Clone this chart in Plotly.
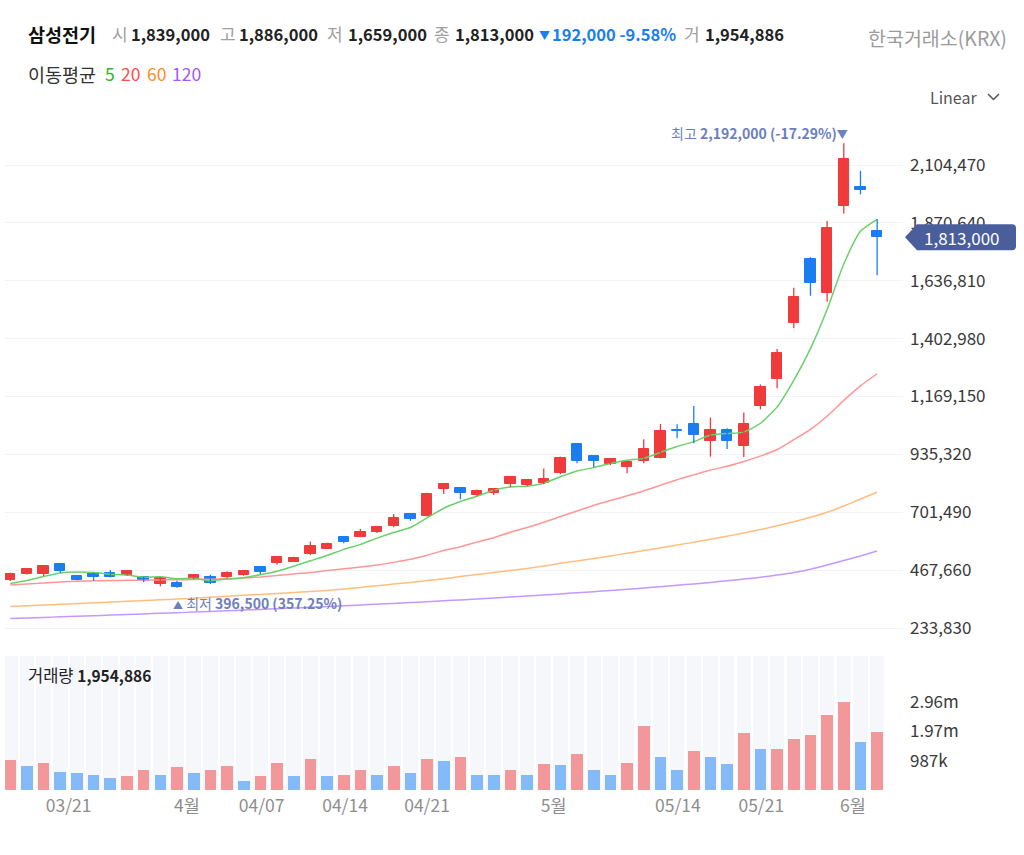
import plotly.graph_objects as go

W, H = 1024, 855
FONT = "Noto Sans CJK KR"

# ---------------- data ----------------
opens = [428000, 453000, 451000, 492000, 444000, 456000, 457000, 447000, 439000, 410000,
         417000, 433000, 441000, 440000, 447000, 479000, 495000, 502000, 531000, 555000,
         603000, 603000, 620000, 644000, 693000, 686000, 796000, 801000, 771000, 778000,
         814000, 813000, 818000, 859000, 976000, 928000, 898000, 886000, 910000, 922000,
         1032000, 1059000, 989000, 1035000, 970000, 1131000, 1240000, 1465000, 1725000, 1586000,
         1939000, 2017000, 1839000]
highs = [457000, 475000, 488000, 494000, 446000, 458000, 468000, 468000, 441000, 439000,
         425000, 452000, 449000, 463000, 468000, 481000, 525000, 522000, 583000, 578000,
         605000, 634000, 647000, 694000, 698000, 780000, 816000, 803000, 793000, 799000,
         845000, 835000, 878000, 926000, 979000, 933000, 919000, 906000, 996000, 1058000,
         1057000, 1131000, 1084000, 1041000, 1105000, 1218000, 1361000, 1609000, 1732000, 1878000,
         2192000, 2081000, 1886000]
lows = [424000, 450000, 444000, 457000, 427000, 425000, 438000, 445000, 420000, 403000,
        396500, 431000, 412000, 435000, 445000, 452000, 490000, 500000, 528000, 553000,
        576000, 601000, 618000, 641000, 667000, 684000, 775000, 754000, 767000, 771000,
        804000, 807000, 815000, 855000, 899000, 883000, 892000, 859000, 899000, 919000,
        1000000, 980000, 926000, 957000, 925000, 1117000, 1202000, 1445000, 1576000, 1552000,
        1909000, 1986000, 1659000]
closes = [452000, 471000, 483000, 465000, 429000, 440000, 440000, 464000, 424000, 435000,
          400000, 449000, 417000, 456000, 464000, 460000, 519000, 517000, 566000, 573000,
          583000, 620000, 643000, 680000, 674000, 777000, 814000, 778000, 789000, 794000,
          843000, 831000, 837000, 921000, 910000, 910000, 915000, 903000, 958000, 1030000,
          1029000, 1014000, 1035000, 989000, 1059000, 1208000, 1345000, 1572000, 1629000, 1849000,
          2128000, 2005000, 1813000]
volumes = [1008000, 806000, 907000, 605000, 561000, 514000, 413000, 460000, 662000, 514000,
           763000, 561000, 662000, 806000, 312000, 460000, 907000, 460000, 1052000, 460000,
           514000, 662000, 514000, 806000, 561000, 1052000, 964000, 1109000, 514000, 505000,
           662000, 514000, 864000, 858000, 1210000, 662000, 514000, 907000, 2160000, 1109000,
           662000, 1310000, 1109000, 864000, 1915000, 1368000, 1372000, 1714000, 1858000, 2510000,
           2961000, 1613000, 1954886]
ma5 = [414000, 426000, 442000, 456000, 460000, 457600, 451400, 447600, 439400, 440600,
       432600, 434400, 425000, 431400, 437200, 449200, 463200, 483200, 505200, 527000,
       551600, 571800, 597000, 619800, 640000, 678800, 717600, 744600, 766400, 790400,
       803600, 807000, 818800, 845200, 868400, 881800, 898600, 911800, 919200, 943200,
       967000, 986800, 1013200, 1019400, 1025200, 1061000, 1127200, 1234600, 1362600, 1520600,
       1704600, 1836600, 1884800]
ma20 = [408000, 412000, 416000, 420000, 422500, 424500, 425700, 426500, 427000, 428000,
        428600, 429800, 431000, 432700, 436000, 440000, 446000, 452000, 458000, 466200,
        472750, 480200, 488200, 498950, 511200, 528050, 546750, 562450, 580700, 598650,
        620800, 639900, 660900, 684150, 706450, 728950, 748750, 768050, 787650, 810500,
        832800, 852500, 872100, 887550, 906800, 928350, 954900, 994600, 1036600, 1089350,
        1153600, 1212300, 1261100]
ma60 = [321000, 323500, 326800, 329600, 332800, 335600, 338900, 341700, 344900, 347800,
        350600, 354200, 358300, 361900, 365900, 369600, 373600, 377700, 381700, 385700,
        391400, 397900, 404300, 411200, 418100, 425300, 433000, 441500, 449600, 457600,
        466100, 474200, 484300, 495200, 504900, 515000, 525100, 535600, 546500, 557800,
        569100, 580400, 592200, 604700, 617600, 631800, 646700, 662900, 681000, 701300,
        726700, 755000, 782100]
ma120 = [272200, 274400, 276600, 278900, 281100, 283500, 285900, 288400, 290800, 293200,
         295600, 298300, 300900, 303500, 306100, 309000, 311800, 314600, 317500, 320500,
         323500, 326700, 330000, 333200, 336600, 340100, 343700, 347300, 351200, 355000,
         359100, 363100, 367100, 371600, 376000, 380500, 385300, 390200, 395400, 400700,
         406300, 412000, 418100, 424500, 431400, 438700, 448000, 458100, 471400, 488400,
         506500, 524700, 544900]

xtick_pos = [3.5, 10.6, 15.08, 20.08, 25.0, 32.6, 40.05, 45.05, 50.55]
xtick_text = ["03/21", "4월", "04/07", "04/14", "04/21", "5월", "05/14", "05/21", "6월"]
price_ticks = [233830, 467660, 701490, 935320, 1169150, 1402980, 1636810, 1870640, 2104470]

stock_name = "삼성전기"
exchange = "한국거래소(KRX)"
ma_periods = [5, 20, 60, 120]

# ---------------- styles ----------------
RED, BLUE = "#EF3B3B", "#1A7EF0"
VRED, VBLUE = "#F2989B", "#85BAF8"
STRIPE = "#F5F7FB"
MA_LINE = ["#6BD06B", "#FF9696", "#FFBE80", "#C498FF"]
MA_TXT = ["#2DB82D", "#FF4B4B", "#FF8A1F", "#9E59FF"]
MARK = "#6C80BE"

n = len(closes)
xs = list(range(n))

# geometry (pixels)
PLOT_L, PLOT_R = 5, 903
SLOT, FIRST = 16.67, 10.3
x0 = -(FIRST - PLOT_L) / SLOT
x1 = x0 + (PLOT_R - PLOT_L) / SLOT
P_TOP, P_BOT = 120, 645
TICK_PX, TICK0_PX = 57.875, 628
upp = price_ticks[0] / TICK_PX
y_min = price_ticks[0] - (P_BOT - TICK0_PX) * upp
y_max = price_ticks[0] + (TICK0_PX - P_TOP) * upp
V_TOP, V_BOT = 656, 790
vmax = max(volumes)
v_upp = vmax / 88.0
v_top = (V_BOT - V_TOP) * v_upp

def py(p):
    return 1 - p / H

fig = go.Figure()

# volume background stripes + bars
fig.add_trace(go.Bar(x=xs, y=[v_top] * n, width=0.87, marker=dict(color=STRIPE, line=dict(width=0)),
                     xaxis="x2", yaxis="y2", hoverinfo="skip"))
vcol = [VRED if (i == 0 or volumes[i] >= volumes[i - 1]) else VBLUE for i in range(n)]
fig.add_trace(go.Bar(x=xs, y=volumes, width=0.70, marker=dict(color=vcol, line=dict(width=0)),
                     xaxis="x2", yaxis="y2"))

# moving averages
for vals, col in zip([ma120, ma60, ma20, ma5], MA_LINE[::-1]):
    fig.add_trace(go.Scatter(x=xs, y=vals, mode="lines",
                             line=dict(color=col, width=1.5, shape="spline", smoothing=0.6),
                             xaxis="x", yaxis="y", hoverinfo="skip"))

# candles: wicks + bodies
for up, col in [(True, RED), (False, BLUE)]:
    idx = [i for i in xs if (closes[i] >= opens[i]) == up]
    wx, wy = [], []
    for i in idx:
        wx += [i, i, None]
        wy += [lows[i], highs[i], None]
    fig.add_trace(go.Scatter(x=wx, y=wy, mode="lines", line=dict(color=col, width=1.3),
                             xaxis="x", yaxis="y", hoverinfo="skip"))
    fig.add_trace(go.Bar(x=idx, y=[abs(closes[i] - opens[i]) for i in idx],
                         base=[min(opens[i], closes[i]) for i in idx], width=0.62,
                         marker=dict(color=col, line=dict(color=col, width=1)),
                         xaxis="x", yaxis="y"))

# ---------------- annotations ----------------
def ann(text, x, y, size=17, color="#222222", xanchor="left", yanchor="middle"):
    return dict(text=text, x=x / W, y=py(y), xref="paper", yref="paper", showarrow=False,
                font=dict(family=FONT, size=size, color=color), xanchor=xanchor, yanchor=yanchor)

o, h, l, c = opens[-1], highs[-1], lows[-1], closes[-1]
chg = c - closes[-2]
pct = chg / closes[-2] * 100
GRAY = "#A0A0A0"
HG = 18.5   # hangul size
SG = 17     # small gray hangul labels
DG = 16.5   # digit size
anns = [
    ann(f"<b>{stock_name}</b>", 26, 34, size=HG, color="#111111"),
    ann("시", 110, 34, size=SG, color=GRAY), ann(f"<b>{o:,}</b>", 129, 34, size=DG),
    ann("고", 218, 34, size=SG, color=GRAY), ann(f"<b>{h:,}</b>", 237, 34, size=DG),
    ann("저", 325, 34, size=SG, color=GRAY), ann(f"<b>{l:,}</b>", 346, 34, size=DG),
    ann("종", 432, 34, size=SG, color=GRAY), ann(f"<b>{c:,}</b>", 453, 34, size=DG),
    ann("▼" if chg < 0 else "▲", 537, 35, size=11, color=BLUE if chg < 0 else RED),
    ann(f"<b>{abs(chg):,} {pct:.2f}%</b>", 550, 34, size=DG, color=BLUE if chg < 0 else RED),
    ann("거", 682, 34, size=SG, color=GRAY), ann(f"<b>{volumes[-1]:,}</b>", 703, 34, size=DG),
    ann(exchange, 1009, 38, size=19.5, color="#9B9B9B", xanchor="right"),
    ann("이동평균", 26, 74, size=HG, color="#333333"),
    ann("Linear", 928, 97, size=16, color="#555555"),
    ann(f"거래량 <b><span style='font-size:15.5px'>{volumes[-1]:,}</span></b>", 26, 675,
        size=16.5, color="#222222"),
]
for k, (p, xp) in enumerate(zip(ma_periods, [103, 119, 145, 170])):
    anns.append(ann(str(p), xp, 74, size=17.5, color=MA_TXT[k]))

# high / low markers
hi_i = max(xs, key=lambda i: highs[i])
lo_i = min(xs, key=lambda i: lows[i])
hi_pct = (c - highs[hi_i]) / highs[hi_i] * 100
lo_pct = (c - lows[lo_i]) / lows[lo_i] * 100
anns.append(dict(text=f"최고 <b>{highs[hi_i]:,} ({hi_pct:.2f}%)</b><span style='font-size:11px'>▼</span>",
                 x=hi_i, y=highs[hi_i], xref="x", yref="y", showarrow=False,
                 xanchor="right", yanchor="bottom", xshift=6, yshift=-2,
                 font=dict(family=FONT, size=14, color=MARK)))
anns.append(dict(text=f"<span style='font-size:10px'>▲</span> 최저 <b>{lows[lo_i]:,} ({lo_pct:.2f}%)</b>",
                 x=lo_i, y=lows[lo_i], xref="x", yref="y", showarrow=False,
                 xanchor="left", yanchor="top", xshift=-6, yshift=-3,
                 font=dict(family=FONT, size=14, color=MARK)))

# last price tag
TAG = "#4A5E9C"
shapes = [
    dict(type="path", xref="paper", yref="y", xsizemode="pixel", ysizemode="pixel",
         xanchor=905 / W, yanchor=c, layer="above",
         path="M0,0 L12,13 L107,13 Q111,13 111,9 L111,-9 Q111,-13 107,-13 L12,-13 Z",
         fillcolor=TAG, line=dict(width=0)),
    dict(type="path", xref="paper", yref="paper",
         path=f"M{988 / W},{py(94)} L{993.5 / W},{py(99.5)} L{999 / W},{py(94)}",
         line=dict(color="#555555", width=1.5)),
]
anns.append(dict(text=f"{c:,}", x=962 / W, y=c, xref="paper", yref="y", showarrow=False,
                 xanchor="center", yanchor="middle",
                 font=dict(family=FONT, size=17, color="#FFFFFF")))

fig.update_layout(
    width=W, height=H, margin=dict(l=0, r=0, t=0, b=0),
    paper_bgcolor="white", plot_bgcolor="white", showlegend=False, barmode="overlay",
    bargap=0, hovermode=False,
    font=dict(family=FONT, size=16, color="#3A3A3A"),
    xaxis=dict(domain=[PLOT_L / W, PLOT_R / W], range=[x0, x1], anchor="y",
               showticklabels=False, showgrid=False, zeroline=False, showline=False),
    xaxis2=dict(domain=[PLOT_L / W, PLOT_R / W], range=[x0, x1], anchor="y2", matches="x",
                tickmode="array", tickvals=xtick_pos, ticktext=xtick_text, ticks="",
                ticklabelstandoff=3,
                tickfont=dict(family=FONT, size=17.5, color="#8E8E8E"),
                showgrid=False, zeroline=False, showline=False),
    yaxis=dict(domain=[py(P_BOT), py(P_TOP)], range=[y_min, y_max], anchor="x", side="right",
               tickmode="array", tickvals=price_ticks, ticktext=[f"{v:,}" for v in price_ticks],
               ticks="", ticklabelstandoff=6, tickfont=dict(family=FONT, size=17, color="#3A3A3A"),
               showgrid=True, gridcolor="#F1F3F6", gridwidth=1, zeroline=False, showline=False),
    yaxis2=dict(domain=[py(V_BOT), py(V_TOP)], range=[0, v_top], anchor="x2", side="right",
                tickmode="array", tickvals=[vmax / 3, 2 * vmax / 3, vmax],
                ticktext=[f"{vmax / 3 / 1000:.0f}k", f"{2 * vmax / 3 / 1e6:.2f}m", f"{vmax / 1e6:.2f}m"],
                ticks="", ticklabelstandoff=6, tickfont=dict(family=FONT, size=17, color="#3A3A3A"),
                showgrid=False, zeroline=False, showline=False),
    annotations=anns, shapes=shapes,
)

fig.write_html("out.html")
